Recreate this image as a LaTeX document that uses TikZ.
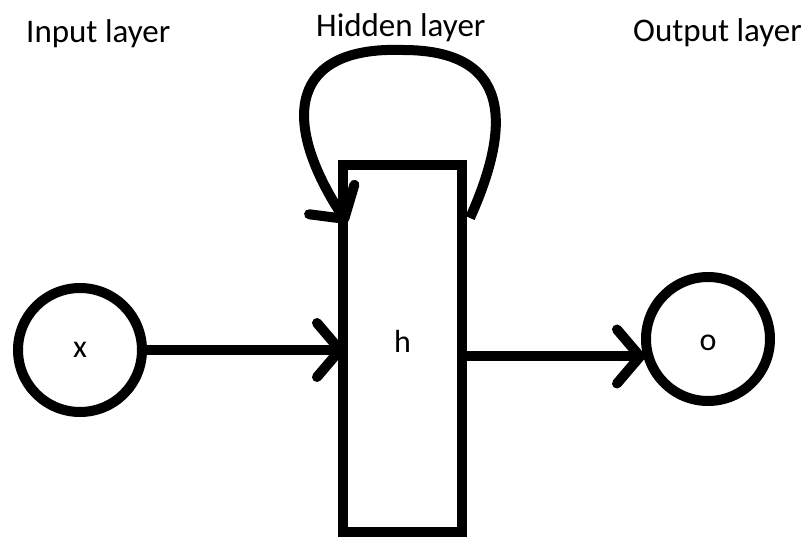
\documentclass[tikz,border=0pt]{standalone}
\usepackage{fontspec}
\setmainfont{Carlito}
\usetikzlibrary{arrows.meta}
\begin{document}
\begin{tikzpicture}[x=1pt,y=-1pt,
  neuron/.style={circle, draw, line width=10pt, minimum size=124pt, inner sep=0pt, font=\fontsize{32}{38}\selectfont},
  layerbox/.style={rectangle, draw, line width=10pt, minimum width=119pt, minimum height=367pt, inner sep=0pt, font=\fontsize{32}{38}\selectfont},
  title/.style={anchor=base west, inner sep=0pt, font=\fontsize{33}{40}\selectfont},
  conn/.style={line width=10pt, -{Straight Barb[length=23pt,width=54pt,round]}},
]
\useasboundingbox (0,0) rectangle (807,537);
\node[neuron] (x) at (80,350) {x};
\node[layerbox, text height=8pt, text depth=0pt] (h) at (402.5,348.5) {h};
\node[neuron, text height=23pt, text depth=0pt] (o) at (708,339) {o};
\node[title] (tin) at (26,43) {Input layer};
\node[title] (thid) at (316,37) {Hidden layer};
\node[title] (tout) at (633,42) {Output layer};
\path (h.west |- x.east) ++(7,0) coordinate (hin);
\draw[conn] (x.east) -- (hin);
\coordinate (hs) at ([yshift=-8pt]h.east);
\path (hs -| o.west) ++(4,0) coordinate (oin);
\draw[conn] (hs) -- (oin);
\coordinate (ls) at ([shift={(3,58)}]h.north east);
\coordinate (le) at ([shift={(9,63)}]h.north west);
\coordinate (lt) at (403,50);
\draw[conn] (ls) .. controls (505,140) and (522,50) .. (lt) .. controls (290,46) and (280,120) .. (le);
\end{tikzpicture}
\end{document}
